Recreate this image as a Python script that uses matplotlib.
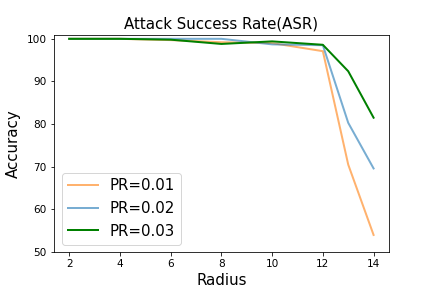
import matplotlib
matplotlib.use("Agg")
import matplotlib.pyplot as plt

# radius values and accuracies
radius = [2, 4, 6, 8, 10, 12, 13, 14]
pr_001 = [100, 100, 99.7, 99.2, 99.0, 97.1, 70.5, 54.0]
pr_002 = [100, 100, 100, 100, 98.7, 98.5, 80.3, 69.6]
pr_003 = [100, 100, 99.8, 98.8, 99.4, 98.6, 92.4, 81.5]

fig, ax = plt.subplots(figsize=(6, 4), dpi=72)
fig.subplots_adjust(left=0.125, right=0.9, bottom=0.125, top=0.88)
ax.plot(radius, pr_001, color="C1", alpha=0.6, linewidth=2, label="PR=0.01")
ax.plot(radius, pr_002, color="C0", alpha=0.6, linewidth=2, label="PR=0.02")
ax.plot(radius, pr_003, color="green", linewidth=2, label="PR=0.03")

ax.set_ylim(50, 101)
ax.set_xticks([2, 4, 6, 8, 10, 12, 14])
ax.tick_params(labelsize=10.5)
ax.set_title("Attack Success Rate(ASR)", fontsize=15)
ax.set_xlabel("Radius", fontsize=15)
ax.set_ylabel("Accuracy", fontsize=15, labelpad=6)
ax.legend(fontsize=15, loc="lower left")

plt.savefig("out.png", dpi=72)
